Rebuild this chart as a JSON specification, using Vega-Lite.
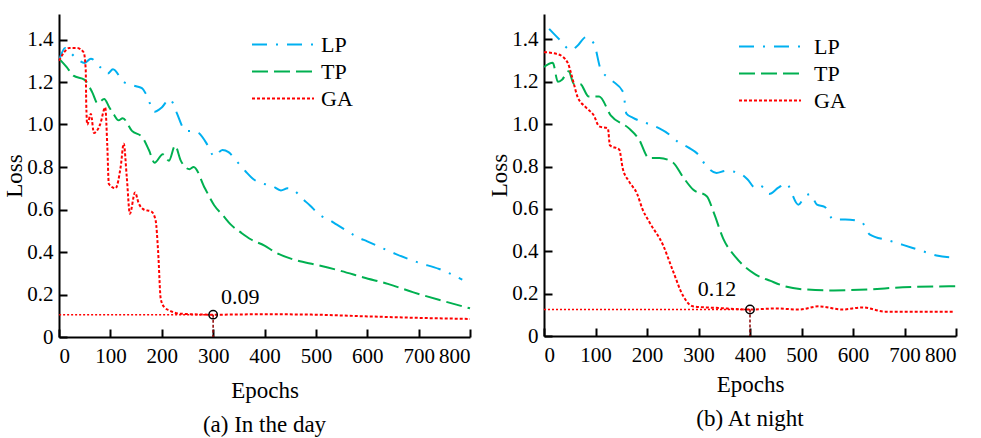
{
  "$schema": "https://vega.github.io/schema/vega-lite/v6.json",
  "background": "white",
  "padding": {"left": 3, "top": 14, "right": 5, "bottom": 5},
  "config": {
    "view": {"stroke": null},
    "font": "Liberation Serif",
    "axis": {
      "labelFont": "Liberation Serif", "labelFontSize": 21, "labelColor": "black",
      "titleFont": "Liberation Serif", "titleFontSize": 23, "titleFontWeight": "normal", "titleColor": "black",
      "domainColor": "black", "domainWidth": 2, "tickColor": "black", "tickWidth": 2, "tickSize": -8,
      "grid": false, "labelPadding": 16
    },
    "axisY": {"labelPadding": 14, "titlePadding": 0},
    "title": {"font": "Liberation Serif", "fontSize": 23, "fontWeight": "normal", "color": "black", "orient": "bottom", "anchor": "middle", "offset": 12},
    "legend": {
      "orient": "none", "title": null, "symbolType": "stroke", "symbolSize": 3844, "symbolStrokeWidth": 2,
      "labelFont": "Liberation Serif", "labelFontSize": 22, "labelColor": "black",
      "clipHeight": 27, "rowPadding": 0, "padding": 0
    }
  },
  "datasets": {
    "day": [
      {"epoch": 0, "loss": 1.30, "method": "LP"}, {"epoch": 12, "loss": 1.36, "method": "LP"}, {"epoch": 30, "loss": 1.32, "method": "LP"}, {"epoch": 50, "loss": 1.29, "method": "LP"}, {"epoch": 62, "loss": 1.31, "method": "LP"}, {"epoch": 80, "loss": 1.27, "method": "LP"}, {"epoch": 95, "loss": 1.24, "method": "LP"}, {"epoch": 105, "loss": 1.26, "method": "LP"}, {"epoch": 126, "loss": 1.20, "method": "LP"}, {"epoch": 150, "loss": 1.18, "method": "LP"}, {"epoch": 162, "loss": 1.17, "method": "LP"}, {"epoch": 170, "loss": 1.14, "method": "LP"}, {"epoch": 186, "loss": 1.06, "method": "LP"}, {"epoch": 200, "loss": 1.08, "method": "LP"}, {"epoch": 215, "loss": 1.12, "method": "LP"}, {"epoch": 222, "loss": 1.10, "method": "LP"}, {"epoch": 230, "loss": 1.05, "method": "LP"}, {"epoch": 247, "loss": 0.97, "method": "LP"}, {"epoch": 260, "loss": 0.97, "method": "LP"}, {"epoch": 272, "loss": 0.96, "method": "LP"}, {"epoch": 290, "loss": 0.90, "method": "LP"}, {"epoch": 302, "loss": 0.85, "method": "LP"}, {"epoch": 318, "loss": 0.88, "method": "LP"}, {"epoch": 330, "loss": 0.87, "method": "LP"}, {"epoch": 345, "loss": 0.83, "method": "LP"}, {"epoch": 363, "loss": 0.78, "method": "LP"}, {"epoch": 380, "loss": 0.74, "method": "LP"}, {"epoch": 400, "loss": 0.72, "method": "LP"}, {"epoch": 416, "loss": 0.71, "method": "LP"}, {"epoch": 432, "loss": 0.69, "method": "LP"}, {"epoch": 445, "loss": 0.70, "method": "LP"}, {"epoch": 458, "loss": 0.69, "method": "LP"}, {"epoch": 470, "loss": 0.66, "method": "LP"}, {"epoch": 488, "loss": 0.62, "method": "LP"}, {"epoch": 510, "loss": 0.57, "method": "LP"}, {"epoch": 527, "loss": 0.55, "method": "LP"}, {"epoch": 540, "loss": 0.53, "method": "LP"}, {"epoch": 560, "loss": 0.50, "method": "LP"}, {"epoch": 581, "loss": 0.47, "method": "LP"}, {"epoch": 600, "loss": 0.45, "method": "LP"}, {"epoch": 637, "loss": 0.41, "method": "LP"}, {"epoch": 656, "loss": 0.39, "method": "LP"}, {"epoch": 700, "loss": 0.35, "method": "LP"}, {"epoch": 740, "loss": 0.32, "method": "LP"}, {"epoch": 785, "loss": 0.27, "method": "LP"},
      {"epoch": 0, "loss": 1.31, "method": "TP"}, {"epoch": 15, "loss": 1.27, "method": "TP"}, {"epoch": 28, "loss": 1.23, "method": "TP"}, {"epoch": 50, "loss": 1.21, "method": "TP"}, {"epoch": 65, "loss": 1.15, "method": "TP"}, {"epoch": 75, "loss": 1.10, "method": "TP"}, {"epoch": 88, "loss": 1.12, "method": "TP"}, {"epoch": 98, "loss": 1.08, "method": "TP"}, {"epoch": 106, "loss": 1.05, "method": "TP"}, {"epoch": 116, "loss": 1.02, "method": "TP"}, {"epoch": 124, "loss": 1.03, "method": "TP"}, {"epoch": 142, "loss": 0.97, "method": "TP"}, {"epoch": 162, "loss": 0.94, "method": "TP"}, {"epoch": 175, "loss": 0.88, "method": "TP"}, {"epoch": 186, "loss": 0.82, "method": "TP"}, {"epoch": 202, "loss": 0.86, "method": "TP"}, {"epoch": 214, "loss": 0.83, "method": "TP"}, {"epoch": 226, "loss": 0.90, "method": "TP"}, {"epoch": 237, "loss": 0.83, "method": "TP"}, {"epoch": 254, "loss": 0.79, "method": "TP"}, {"epoch": 262, "loss": 0.80, "method": "TP"}, {"epoch": 284, "loss": 0.70, "method": "TP"}, {"epoch": 302, "loss": 0.62, "method": "TP"}, {"epoch": 320, "loss": 0.57, "method": "TP"}, {"epoch": 334, "loss": 0.53, "method": "TP"}, {"epoch": 355, "loss": 0.49, "method": "TP"}, {"epoch": 373, "loss": 0.46, "method": "TP"}, {"epoch": 400, "loss": 0.43, "method": "TP"}, {"epoch": 420, "loss": 0.40, "method": "TP"}, {"epoch": 463, "loss": 0.36, "method": "TP"}, {"epoch": 500, "loss": 0.34, "method": "TP"}, {"epoch": 550, "loss": 0.31, "method": "TP"}, {"epoch": 593, "loss": 0.28, "method": "TP"}, {"epoch": 640, "loss": 0.25, "method": "TP"}, {"epoch": 690, "loss": 0.21, "method": "TP"}, {"epoch": 747, "loss": 0.17, "method": "TP"}, {"epoch": 800, "loss": 0.135, "method": "TP"},
      {"epoch": 0, "loss": 1.30, "method": "GA"}, {"epoch": 10, "loss": 1.34, "method": "GA"}, {"epoch": 20, "loss": 1.36, "method": "GA"}, {"epoch": 35, "loss": 1.36, "method": "GA"}, {"epoch": 48, "loss": 1.34, "method": "GA"}, {"epoch": 52, "loss": 1.26, "method": "GA"}, {"epoch": 53, "loss": 1.10, "method": "GA"}, {"epoch": 55, "loss": 1.00, "method": "GA"}, {"epoch": 62, "loss": 1.05, "method": "GA"}, {"epoch": 68, "loss": 0.96, "method": "GA"}, {"epoch": 80, "loss": 1.00, "method": "GA"}, {"epoch": 90, "loss": 1.08, "method": "GA"}, {"epoch": 94, "loss": 0.90, "method": "GA"}, {"epoch": 97, "loss": 0.72, "method": "GA"}, {"epoch": 110, "loss": 0.70, "method": "GA"}, {"epoch": 120, "loss": 0.80, "method": "GA"}, {"epoch": 126, "loss": 0.91, "method": "GA"}, {"epoch": 132, "loss": 0.75, "method": "GA"}, {"epoch": 138, "loss": 0.58, "method": "GA"}, {"epoch": 148, "loss": 0.68, "method": "GA"}, {"epoch": 155, "loss": 0.63, "method": "GA"}, {"epoch": 165, "loss": 0.60, "method": "GA"}, {"epoch": 180, "loss": 0.59, "method": "GA"}, {"epoch": 188, "loss": 0.55, "method": "GA"}, {"epoch": 193, "loss": 0.40, "method": "GA"}, {"epoch": 198, "loss": 0.18, "method": "GA"}, {"epoch": 205, "loss": 0.14, "method": "GA"}, {"epoch": 215, "loss": 0.125, "method": "GA"}, {"epoch": 235, "loss": 0.11, "method": "GA"}, {"epoch": 300, "loss": 0.105, "method": "GA"}, {"epoch": 400, "loss": 0.107, "method": "GA"}, {"epoch": 500, "loss": 0.105, "method": "GA"}, {"epoch": 600, "loss": 0.097, "method": "GA"}, {"epoch": 700, "loss": 0.09, "method": "GA"}, {"epoch": 800, "loss": 0.085, "method": "GA"}
    ],
    "night": [
      {"epoch": 10, "loss": 1.45, "method": "LP"}, {"epoch": 30, "loss": 1.40, "method": "LP"}, {"epoch": 52, "loss": 1.35, "method": "LP"}, {"epoch": 65, "loss": 1.37, "method": "LP"}, {"epoch": 81, "loss": 1.41, "method": "LP"}, {"epoch": 97, "loss": 1.38, "method": "LP"}, {"epoch": 110, "loss": 1.26, "method": "LP"}, {"epoch": 130, "loss": 1.21, "method": "LP"}, {"epoch": 154, "loss": 1.15, "method": "LP"}, {"epoch": 160, "loss": 1.05, "method": "LP"}, {"epoch": 173, "loss": 1.03, "method": "LP"}, {"epoch": 204, "loss": 1.00, "method": "LP"}, {"epoch": 224, "loss": 0.98, "method": "LP"}, {"epoch": 244, "loss": 0.95, "method": "LP"}, {"epoch": 258, "loss": 0.92, "method": "LP"}, {"epoch": 280, "loss": 0.89, "method": "LP"}, {"epoch": 298, "loss": 0.86, "method": "LP"}, {"epoch": 316, "loss": 0.80, "method": "LP"}, {"epoch": 335, "loss": 0.77, "method": "LP"}, {"epoch": 353, "loss": 0.78, "method": "LP"}, {"epoch": 378, "loss": 0.77, "method": "LP"}, {"epoch": 395, "loss": 0.74, "method": "LP"}, {"epoch": 410, "loss": 0.70, "method": "LP"}, {"epoch": 420, "loss": 0.71, "method": "LP"}, {"epoch": 437, "loss": 0.67, "method": "LP"}, {"epoch": 455, "loss": 0.70, "method": "LP"}, {"epoch": 470, "loss": 0.72, "method": "LP"}, {"epoch": 494, "loss": 0.62, "method": "LP"}, {"epoch": 507, "loss": 0.66, "method": "LP"}, {"epoch": 517, "loss": 0.67, "method": "LP"}, {"epoch": 530, "loss": 0.62, "method": "LP"}, {"epoch": 545, "loss": 0.61, "method": "LP"}, {"epoch": 562, "loss": 0.55, "method": "LP"}, {"epoch": 585, "loss": 0.55, "method": "LP"}, {"epoch": 616, "loss": 0.54, "method": "LP"}, {"epoch": 632, "loss": 0.48, "method": "LP"}, {"epoch": 671, "loss": 0.45, "method": "LP"}, {"epoch": 697, "loss": 0.43, "method": "LP"}, {"epoch": 736, "loss": 0.40, "method": "LP"}, {"epoch": 762, "loss": 0.38, "method": "LP"}, {"epoch": 800, "loss": 0.37, "method": "LP"},
      {"epoch": 0, "loss": 1.27, "method": "TP"}, {"epoch": 17, "loss": 1.29, "method": "TP"}, {"epoch": 27, "loss": 1.20, "method": "TP"}, {"epoch": 35, "loss": 1.21, "method": "TP"}, {"epoch": 48, "loss": 1.25, "method": "TP"}, {"epoch": 58, "loss": 1.19, "method": "TP"}, {"epoch": 70, "loss": 1.19, "method": "TP"}, {"epoch": 87, "loss": 1.13, "method": "TP"}, {"epoch": 107, "loss": 1.13, "method": "TP"}, {"epoch": 130, "loss": 1.04, "method": "TP"}, {"epoch": 165, "loss": 0.98, "method": "TP"}, {"epoch": 184, "loss": 0.93, "method": "TP"}, {"epoch": 204, "loss": 0.84, "method": "TP"}, {"epoch": 224, "loss": 0.84, "method": "TP"}, {"epoch": 250, "loss": 0.82, "method": "TP"}, {"epoch": 270, "loss": 0.75, "method": "TP"}, {"epoch": 290, "loss": 0.69, "method": "TP"}, {"epoch": 316, "loss": 0.66, "method": "TP"}, {"epoch": 330, "loss": 0.58, "method": "TP"}, {"epoch": 348, "loss": 0.46, "method": "TP"}, {"epoch": 373, "loss": 0.37, "method": "TP"}, {"epoch": 411, "loss": 0.29, "method": "TP"}, {"epoch": 440, "loss": 0.26, "method": "TP"}, {"epoch": 467, "loss": 0.235, "method": "TP"}, {"epoch": 505, "loss": 0.22, "method": "TP"}, {"epoch": 563, "loss": 0.215, "method": "TP"}, {"epoch": 630, "loss": 0.22, "method": "TP"}, {"epoch": 697, "loss": 0.23, "method": "TP"}, {"epoch": 800, "loss": 0.235, "method": "TP"},
      {"epoch": 0, "loss": 1.34, "method": "GA"}, {"epoch": 27, "loss": 1.33, "method": "GA"}, {"epoch": 46, "loss": 1.29, "method": "GA"}, {"epoch": 52, "loss": 1.245, "method": "GA"}, {"epoch": 58, "loss": 1.19, "method": "GA"}, {"epoch": 65, "loss": 1.13, "method": "GA"}, {"epoch": 81, "loss": 1.08, "method": "GA"}, {"epoch": 97, "loss": 1.04, "method": "GA"}, {"epoch": 107, "loss": 0.99, "method": "GA"}, {"epoch": 124, "loss": 0.98, "method": "GA"}, {"epoch": 128, "loss": 0.90, "method": "GA"}, {"epoch": 146, "loss": 0.88, "method": "GA"}, {"epoch": 153, "loss": 0.79, "method": "GA"}, {"epoch": 165, "loss": 0.73, "method": "GA"}, {"epoch": 181, "loss": 0.67, "method": "GA"}, {"epoch": 191, "loss": 0.60, "method": "GA"}, {"epoch": 204, "loss": 0.54, "method": "GA"}, {"epoch": 231, "loss": 0.43, "method": "GA"}, {"epoch": 250, "loss": 0.31, "method": "GA"}, {"epoch": 270, "loss": 0.19, "method": "GA"}, {"epoch": 289, "loss": 0.14, "method": "GA"}, {"epoch": 340, "loss": 0.132, "method": "GA"}, {"epoch": 400, "loss": 0.125, "method": "GA"}, {"epoch": 450, "loss": 0.13, "method": "GA"}, {"epoch": 495, "loss": 0.125, "method": "GA"}, {"epoch": 534, "loss": 0.14, "method": "GA"}, {"epoch": 580, "loss": 0.125, "method": "GA"}, {"epoch": 618, "loss": 0.135, "method": "GA"}, {"epoch": 663, "loss": 0.115, "method": "GA"}, {"epoch": 795, "loss": 0.115, "method": "GA"}
    ],
    "dayMark": [{"epoch": 300, "loss": 0.105, "label": "0.09"}],
    "nightMark": [{"epoch": 400, "loss": 0.125, "label": "0.12"}]
  },
  "spacing": 14,
  "resolve": {"scale": {"color": "independent", "strokeDash": "independent"}},
  "hconcat": [
    {
      "width": 411, "height": 323,
      "title": {"text": "(a) In the day"},
      "layer": [
        {
          "data": {"name": "day"},
          "mark": {"type": "line", "strokeWidth": 2, "interpolate": "monotone"},
          "encoding": {
            "x": {"field": "epoch", "type": "quantitative", "scale": {"domain": [0, 800], "nice": false}, "axis": {"title": "Epochs", "titlePadding": 13, "values": [0, 100, 200, 300, 400, 500, 600, 700, 800]}},
            "y": {"field": "loss", "type": "quantitative", "scale": {"domain": [0, 1.52], "nice": false}, "axis": {"title": "Loss", "values": [0, 0.2, 0.4, 0.6, 0.8, 1.0, 1.2, 1.4], "labelExpr": "datum.value == 0 ? '0' : format(datum.value, '.1f')"}},
            "color": {"field": "method", "type": "nominal", "scale": {"domain": ["LP", "TP", "GA"], "range": ["#00B0F0", "#00B050", "#FF0000"]}, "legend": {"legendX": 192, "legendY": 17, "labelOffset": 6}},
            "strokeDash": {"field": "method", "type": "nominal", "scale": {"domain": ["LP", "TP", "GA"], "range": [[15, 9, 2, 9], [16, 6], [3, 2]]}, "legend": {"legendX": 192, "legendY": 17, "labelOffset": 6}}
          }
        },
        {
          "data": {"name": "dayMark"},
          "mark": {"type": "rule", "color": "#FF0000", "strokeWidth": 1.5, "strokeDash": [2, 2]},
          "encoding": {"x": {"field": "epoch", "type": "quantitative"}, "x2": {"datum": 0}, "y": {"field": "loss", "type": "quantitative"}}
        },
        {
          "data": {"name": "dayMark"},
          "mark": {"type": "rule", "color": "#8B0000", "strokeWidth": 1.5, "strokeDash": [3, 2]},
          "encoding": {"x": {"field": "epoch", "type": "quantitative"}, "y": {"field": "loss", "type": "quantitative"}, "y2": {"datum": 0}}
        },
        {
          "data": {"name": "dayMark"},
          "mark": {"type": "point", "shape": "circle", "filled": false, "color": "black", "size": 70, "strokeWidth": 1.5, "opacity": 1},
          "encoding": {"x": {"field": "epoch", "type": "quantitative"}, "y": {"field": "loss", "type": "quantitative"}}
        },
        {
          "data": {"name": "dayMark"},
          "mark": {"type": "text", "font": "Liberation Serif", "fontSize": 22, "color": "black", "align": "center", "baseline": "middle", "dx": 27, "dy": -18},
          "encoding": {"x": {"field": "epoch", "type": "quantitative"}, "y": {"field": "loss", "type": "quantitative"}, "text": {"field": "label"}}
        }
      ]
    },
    {
      "width": 412, "height": 322,
      "title": {"text": "(b) At night"},
      "layer": [
        {
          "data": {"name": "night"},
          "mark": {"type": "line", "strokeWidth": 2, "interpolate": "monotone"},
          "encoding": {
            "x": {"field": "epoch", "type": "quantitative", "scale": {"domain": [0, 800], "nice": false}, "axis": {"title": "Epochs", "titlePadding": 8, "values": [0, 100, 200, 300, 400, 500, 600, 700, 800]}},
            "y": {"field": "loss", "type": "quantitative", "scale": {"domain": [0, 1.52], "nice": false}, "axis": {"title": "Loss", "values": [0, 0.2, 0.4, 0.6, 0.8, 1.0, 1.2, 1.4], "labelExpr": "datum.value == 0 ? '0' : format(datum.value, '.1f')"}},
            "color": {"field": "method", "type": "nominal", "scale": {"domain": ["LP", "TP", "GA"], "range": ["#00B0F0", "#00B050", "#FF0000"]}, "legend": {"legendX": 194, "legendY": 19, "labelOffset": 12}},
            "strokeDash": {"field": "method", "type": "nominal", "scale": {"domain": ["LP", "TP", "GA"], "range": [[15, 9, 2, 9], [16, 6], [3, 2]]}, "legend": {"legendX": 194, "legendY": 19, "labelOffset": 12}}
          }
        },
        {
          "data": {"name": "nightMark"},
          "mark": {"type": "rule", "color": "#FF0000", "strokeWidth": 1.5, "strokeDash": [2, 2]},
          "encoding": {"x": {"field": "epoch", "type": "quantitative"}, "x2": {"datum": 0}, "y": {"field": "loss", "type": "quantitative"}}
        },
        {
          "data": {"name": "nightMark"},
          "mark": {"type": "rule", "color": "#8B0000", "strokeWidth": 1.5, "strokeDash": [3, 2]},
          "encoding": {"x": {"field": "epoch", "type": "quantitative"}, "y": {"field": "loss", "type": "quantitative"}, "y2": {"datum": 0}}
        },
        {
          "data": {"name": "nightMark"},
          "mark": {"type": "point", "shape": "circle", "filled": false, "color": "black", "size": 70, "strokeWidth": 1.5, "opacity": 1},
          "encoding": {"x": {"field": "epoch", "type": "quantitative"}, "y": {"field": "loss", "type": "quantitative"}}
        },
        {
          "data": {"name": "nightMark"},
          "mark": {"type": "text", "font": "Liberation Serif", "fontSize": 22, "color": "black", "align": "center", "baseline": "middle", "dx": -33, "dy": -21},
          "encoding": {"x": {"field": "epoch", "type": "quantitative"}, "y": {"field": "loss", "type": "quantitative"}, "text": {"field": "label"}}
        }
      ]
    }
  ]
}
